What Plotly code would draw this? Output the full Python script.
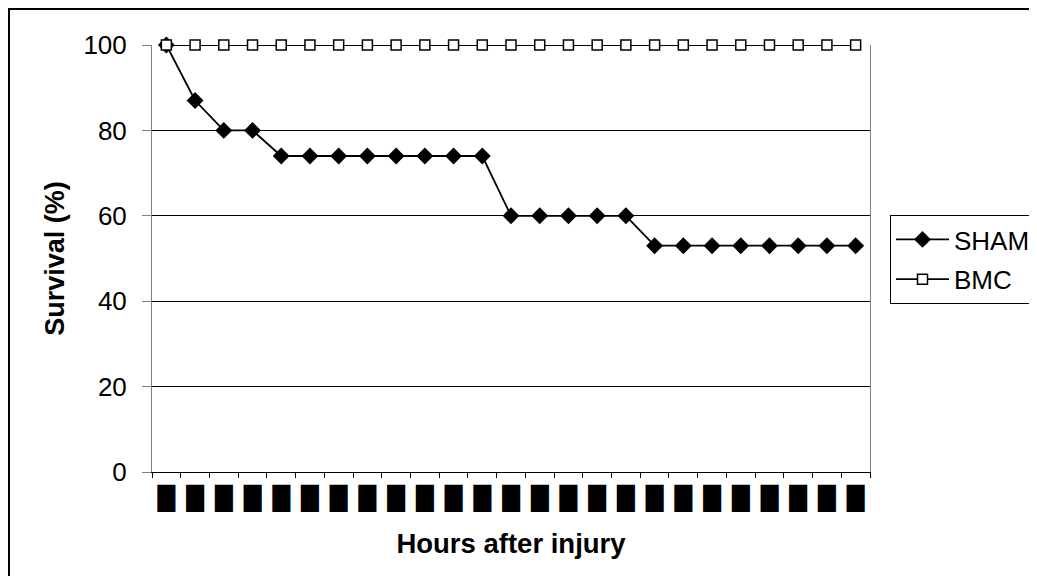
import plotly.graph_objects as go

# Data
hour_index = list(range(25))
tick_labels = ["█"] * 25
sham = [100, 87, 80, 80, 74, 74, 74, 74, 74, 74, 74, 74, 60, 60, 60, 60, 60,
        53, 53, 53, 53, 53, 53, 53, 53]
bmc = [100] * 25

# page body has an 8px margin, so the figure is drawn 8px in from the window corner
OFF = 8
W, H = 1037 - 2 * OFF, 584 - 2 * OFF
L, R, T, B = 152 - OFF, 870 - OFF, 45 - OFF, 472 - OFF
pw, ph = R - L, B - T

def px_x(x):
    return (x - L) / pw

def px_y(y):
    return (B - y) / ph

fig = go.Figure()
fig.add_trace(go.Scatter(
    x=hour_index, y=sham, name="SHAM", mode="lines+markers", cliponaxis=False,
    legendgroup="a",
    line=dict(color="black", width=1.8),
    marker=dict(symbol="diamond", size=13, color="black"),
))
fig.add_trace(go.Scatter(
    x=hour_index, y=bmc, name="BMC", mode="lines+markers", cliponaxis=False,
    legendgroup="b",
    line=dict(color="black", width=1.8),
    marker=dict(symbol="square", size=10, color="white", line=dict(color="black", width=1.5)),
))

font_family = "Liberation Sans, Arial, sans-serif"

fig.update_layout(
    width=W, height=H,
    margin=dict(l=L, r=W - R, t=T, b=H - B, autoexpand=False),
    paper_bgcolor="white", plot_bgcolor="white",
    font=dict(family=font_family, color="black", size=26),
    showlegend=True,
    legend=dict(
        x=px_x(890 - OFF), y=px_y(215 - OFF), xanchor="left", yanchor="top",
        bordercolor="black", borderwidth=1, bgcolor="white",
        font=dict(size=26, family=font_family), itemwidth=53,
        tracegroupgap=3,
    ),
    xaxis=dict(
        range=[-0.5, 24.5], tickvals=hour_index, ticktext=tick_labels,
        ticks="", showgrid=False, zeroline=False,
        showline=True, linecolor="black", linewidth=1,
        tickfont=dict(size=23, family="DejaVu Sans", color="black"),
        ticklabelstandoff=5,
        minor=dict(tickvals=[i - 0.5 for i in range(26)], ticks="outside",
                   ticklen=5, tickcolor="black", tickwidth=1, showgrid=False),
        title=dict(text="<b>Hours after injury</b>", font=dict(size=27.5, family=font_family),
                   standoff=23),
    ),
    yaxis=dict(
        range=[0, 100], tickvals=[0, 20, 40, 60, 80, 100],
        ticks="outside", ticklen=9, tickcolor="#808080", tickwidth=1,
        showgrid=True, gridcolor="black", gridwidth=1, zeroline=False,
        showline=True, linecolor="#808080", linewidth=1, mirror=True,
        tickfont=dict(size=26, family=font_family),
        ticklabelstandoff=10,
        title=dict(text="<b>Survival (%)</b>", font=dict(size=27, family=font_family),
                   standoff=10),
    ),
    shapes=[
        dict(type="line", xref="paper", yref="paper",
             x0=px_x(1), x1=px_x(1), y0=px_y(700), y1=px_y(0),
             line=dict(color="black", width=2)),
        dict(type="line", xref="paper", yref="paper",
             x0=px_x(0), x1=px_x(1200), y0=px_y(1), y1=px_y(1),
             line=dict(color="black", width=2)),
    ],
)

fig.write_html("out.html")
